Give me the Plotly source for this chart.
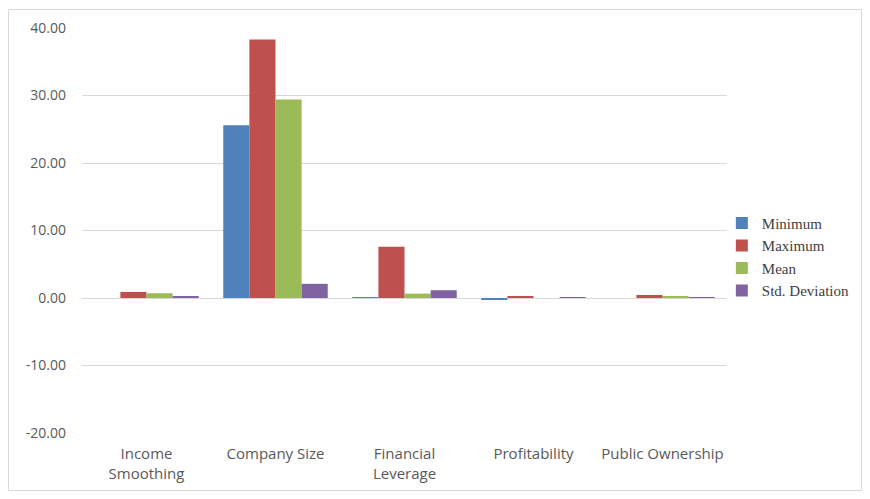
import plotly.graph_objects as go

categories = ["Income<br>Smoothing", "Company Size", "Financial<br>Leverage", "Profitability", "Public Ownership"]
minimum = [0.0, 25.6, 0.05, -0.2, 0.0]
maximum = [0.9, 38.3, 7.6, 0.3, 0.45]
mean = [0.7, 29.4, 0.65, 0.0, 0.25]
std_dev = [0.3, 2.1, 1.15, 0.05, 0.1]
series_names = ["Minimum", "Maximum", "Mean", "Std. Deviation"]
colors = ["#4F81BD", "#C0504D", "#9BBB59", "#8064A2"]
tick_vals = [-20, -10, 0, 10, 20, 30, 40]
tick_text = ["-20.00", "-10.00", "0.00", "10.00", "20.00", "30.00", "40.00"]

# page body has an 8px margin, so the figure is sized/placed accordingly
W, H = 854, 483
L, T, PW, PH = 74, 20, 645, 405

fig = go.Figure()
for name, vals, col in zip(series_names, [minimum, maximum, mean, std_dev], colors):
    fig.add_trace(go.Bar(name=name, x=categories, y=vals, marker_color=col, marker_line_width=0))

fig.update_layout(
    width=W, height=H,
    barmode="group", bargap=0.19, bargroupgap=0,
    paper_bgcolor="white", plot_bgcolor="white",
    margin=dict(l=L, r=W - L - PW, t=T, b=H - T - PH, autoexpand=False),
    font=dict(family="Open Sans, Lato, sans-serif", size=14, color="#595959"),
    legend=dict(x=0.992, xanchor="left", y=0.435, yanchor="middle",
                font=dict(family="Liberation Serif, serif", size=15, color="#404040"),
                tracegroupgap=0, itemwidth=30, bgcolor="rgba(0,0,0,0)"),
    showlegend=True,
    shapes=[dict(type="rect", xref="paper", yref="paper",
                 x0=(0.5 - L) / PW, x1=(W - 0.5 - L) / PW,
                 y0=(T + PH - (H - 0.5)) / PH, y1=(T + PH - 1.5) / PH,
                 line=dict(color="#D9D9D9", width=1), fillcolor="rgba(0,0,0,0)", layer="below")],
)
fig.update_yaxes(range=[-20, 40], tickvals=tick_vals, ticktext=tick_text,
                 showgrid=True, gridcolor="#D9D9D9", gridwidth=1,
                 zeroline=True, zerolinecolor="#D9D9D9", zerolinewidth=1,
                 showline=False, ticks="", ticklabelstandoff=15, fixedrange=True, automargin=False)
fig.update_xaxes(showgrid=False, showline=False, ticks="", fixedrange=True, ticklabelstandoff=10,
                 tickfont=dict(size=15), automargin=False)

fig.write_html("out.html")
